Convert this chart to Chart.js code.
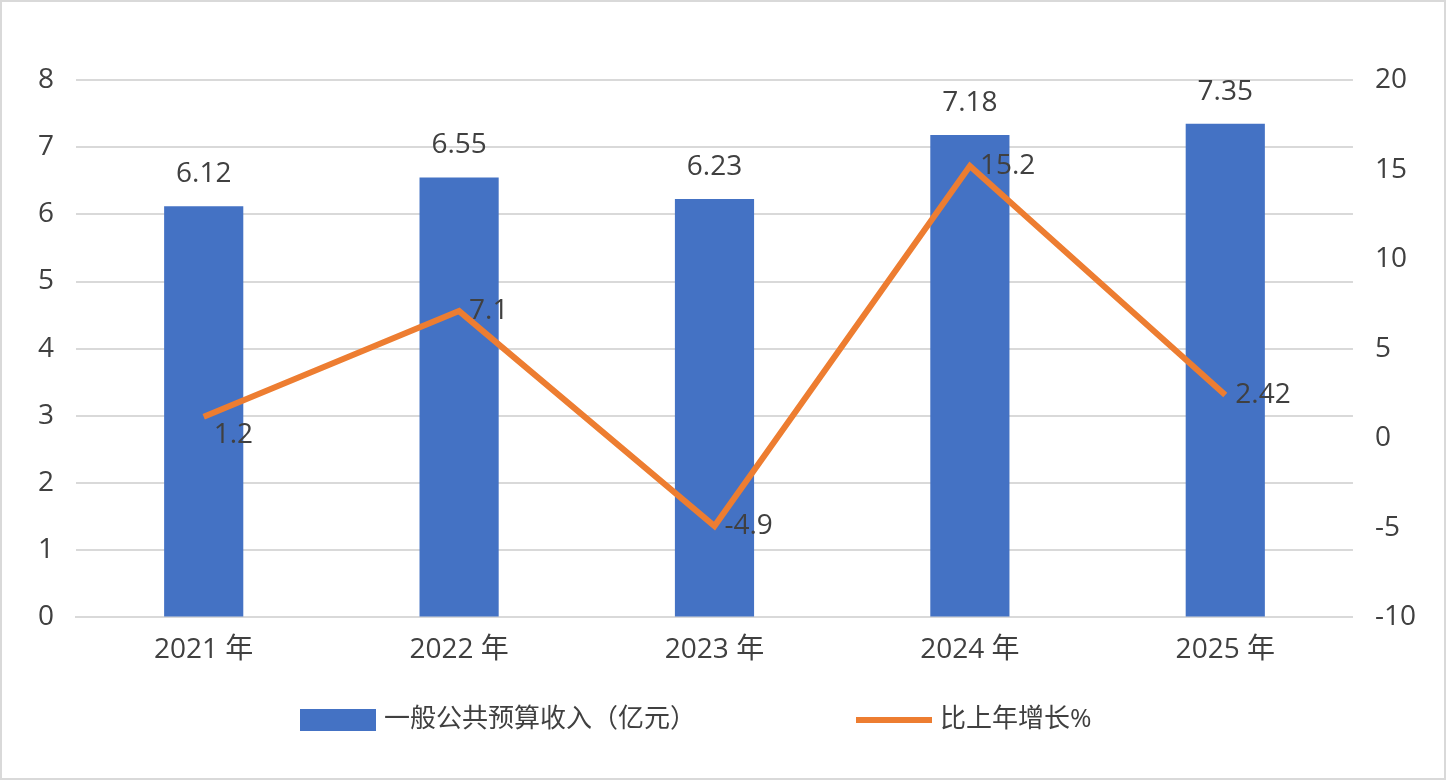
<!DOCTYPE html>
<html><head><meta charset="utf-8">
<script src="https://cdn.jsdelivr.net/npm/chart.js@4"></script>
<style>html,body{margin:0;padding:0;background:#fff}#w{width:1446px;height:780px;position:relative;box-sizing:border-box;border:2px solid #d9d9d9}canvas{display:block}</style>
</head><body><div id="w"><canvas id="c" width="1442" height="776"></canvas></div>
<script>
const categories = ["2021 年","2022 年","2023 年","2024 年","2025 年"];
const revenue = [6.12,6.55,6.23,7.18,7.35];
const growth = [1.2,7.1,-4.9,15.2,2.42];
const growthLabels = ["1.2","7.1","-4.9","15.2","2.42"];
const barName = "一般公共预算收入（亿元）";
const lineName = "比上年增长%";
const FONT = "'Open Sans','Noto Sans CJK SC',sans-serif";
const TXT = "#404040";

const labelPlugin = {
  id:'lbl',
  afterDatasetsDraw(chart){
    const ctx = chart.ctx; ctx.save();
    ctx.font = "28px " + FONT; ctx.fillStyle = TXT;
    chart.getDatasetMeta(1).data.forEach((b,i)=>{
      ctx.textAlign='center'; ctx.textBaseline='bottom';
      ctx.fillText(revenue[i].toFixed(2), b.x, b.y-18);
    });
    chart.getDatasetMeta(0).data.forEach((p,i)=>{
      ctx.textAlign='left'; ctx.textBaseline='middle';
      ctx.fillText(growthLabels[i], p.x+10, p.y+(i===0?18:0));
    });
    const y = 718;
    ctx.font = "26px " + FONT; ctx.textBaseline='middle'; ctx.textAlign='left';
    ctx.fillStyle = "#4472C4"; ctx.fillRect(298, y-11, 76, 22);
    ctx.fillStyle = TXT; ctx.fillText(barName, 382, y);
    ctx.strokeStyle = "#ED7D31"; ctx.lineWidth = 6;
    ctx.beginPath(); ctx.moveTo(854,y); ctx.lineTo(930,y); ctx.stroke();
    ctx.fillText(lineName, 938, y);
    ctx.restore();
  }
};

new Chart(document.getElementById('c'), {
  data:{
    labels: categories,
    datasets:[
      {type:'line', label:lineName, data:growth, yAxisID:'y2', borderColor:'#ED7D31', borderWidth:6, pointRadius:0, tension:0, order:0},
      {type:'bar', label:barName, data:revenue, yAxisID:'y', backgroundColor:'#4472C4', barPercentage:0.31, categoryPercentage:1, order:1}
    ]
  },
  options:{
    responsive:false, animation:false, devicePixelRatio:1,
    layout:{padding:{top:78,left:14,right:6,bottom:95}},
    plugins:{legend:{display:false},tooltip:{enabled:false}},
    scales:{
      x:{grid:{display:false,drawTicks:false}, border:{color:'#d9d9d9',width:2}, ticks:{color:TXT,font:{size:28,family:FONT},padding:16}},
      y:{position:'left', min:0, max:8, ticks:{stepSize:1,color:TXT,font:{size:28,family:FONT},padding:22}, grid:{color:'#d9d9d9',lineWidth:2,drawTicks:false}, border:{display:false}},
      y2:{position:'right', min:-10, max:20, ticks:{stepSize:5,color:TXT,font:{size:28,family:FONT},padding:22}, grid:{display:false,drawTicks:false}, border:{display:false}}
    }
  },
  plugins:[labelPlugin]
});
</script>
</body></html>
